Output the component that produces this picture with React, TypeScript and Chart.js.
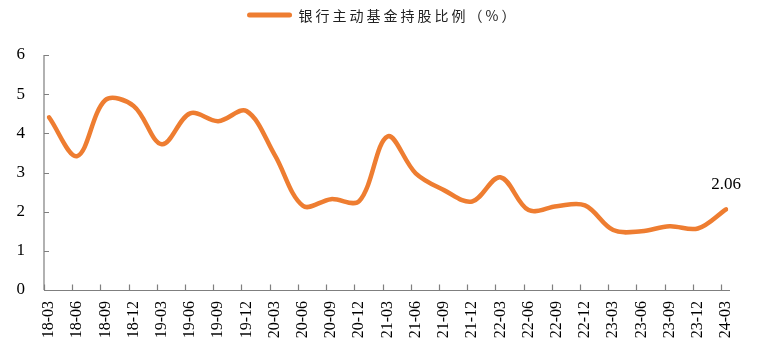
import React, { useEffect, useRef } from "react";
import { Chart, registerables } from "chart.js";

Chart.register(...registerables);

const categories = [
  "18-03", "18-06", "18-09", "18-12",
  "19-03", "19-06", "19-09", "19-12",
  "20-03", "20-06", "20-09", "20-12",
  "21-03", "21-06", "21-09", "21-12",
  "22-03", "22-06", "22-09", "22-12",
  "23-03", "23-06", "23-09", "23-12",
  "24-03",
];

const seriesName = "银行主动基金持股比例（%）";

const bankShare = [
  4.41, 3.42, 4.85, 4.70,
  3.72, 4.51, 4.31, 4.57,
  3.45, 2.15, 2.32, 2.27,
  3.92, 2.98, 2.55, 2.26,
  2.88, 2.04, 2.14, 2.16,
  1.53, 1.50, 1.63, 1.57,
  2.06,
];

const yTicks = [0, 1, 2, 3, 4, 5, 6];

const ORANGE = "#EE7D31";
const AXIS = "#7f7f7f";
const SERIF = "'Liberation Serif', 'Times New Roman', serif";

const axesPlugin = {
  id: "customAxes",
  beforeDatasetsDraw(chart: any) {
    const { ctx, chartArea, scales } = chart;
    const x = scales.x;
    const y = scales.y;
    const off = 5;
    const x0 = chartArea.left - off;
    const yTop = y.getPixelForValue(yTicks[yTicks.length - 1]);
    const yBot = y.getPixelForValue(yTicks[0]);
    ctx.save();
    ctx.strokeStyle = AXIS;
    ctx.lineWidth = 1.2;
    ctx.beginPath();
    ctx.moveTo(x0, yTop);
    ctx.lineTo(x0, yBot);
    yTicks.forEach((v) => {
      const py = Math.round(y.getPixelForValue(v)) + 0.5;
      ctx.moveTo(x0, py);
      ctx.lineTo(x0 + 5, py);
    });
    const by = Math.round(yBot) + 0.5;
    ctx.moveTo(x0, by);
    ctx.lineTo(chartArea.right + 4, by);
    categories.forEach((_, i) => {
      const px = Math.round(x.getPixelForTick(i) - off) + 0.5;
      ctx.moveTo(px, by);
      ctx.lineTo(px, by - 6);
    });
    ctx.stroke();
    ctx.restore();
  },
};

const legendPlugin = {
  id: "customLegend",
  afterDraw(chart: any) {
    const { ctx, width } = chart;
    const label = chart.data.datasets[0].label as string;
    ctx.save();
    ctx.font = "14px 'Noto Sans CJK SC', sans-serif";
    (ctx as any).letterSpacing = "3px";
    const tw = ctx.measureText(label).width;
    const lineW = 44;
    const gap = 7;
    const total = lineW + gap + tw;
    const startX = (width - total) / 2 + 2;
    const cy = 15;
    ctx.strokeStyle = ORANGE;
    ctx.lineWidth = 5;
    ctx.lineCap = "round";
    ctx.beginPath();
    ctx.moveTo(startX + 2, cy);
    ctx.lineTo(startX + lineW - 2, cy);
    ctx.stroke();
    ctx.fillStyle = "#222";
    ctx.textBaseline = "middle";
    ctx.textAlign = "left";
    ctx.fillText(label, startX + lineW + gap, cy + 1);
    ctx.restore();
  },
};

const lastLabelPlugin = {
  id: "lastLabel",
  afterDatasetsDraw(chart: any) {
    const { ctx } = chart;
    const meta = chart.getDatasetMeta(0);
    const n = meta.data.length - 1;
    const pt = meta.data[n];
    const v = chart.data.datasets[0].data[n] as number;
    ctx.save();
    ctx.font = `17px ${SERIF}`;
    ctx.fillStyle = "#000";
    ctx.textAlign = "center";
    ctx.textBaseline = "middle";
    ctx.fillText(v.toFixed(2), pt.x, pt.y - 25);
    ctx.restore();
  },
};

export default function App() {
  const ref = useRef<HTMLCanvasElement | null>(null);

  useEffect(() => {
    if (!ref.current) return;
    const chart = new Chart(ref.current, {
      type: "line",
      data: {
        labels: categories,
        datasets: [
          {
            label: seriesName,
            data: bankShare,
            borderColor: ORANGE,
            backgroundColor: ORANGE,
            borderWidth: 4.5,
            pointRadius: 0,
            tension: 0.35,
            borderCapStyle: "round",
            borderJoinStyle: "round",
          },
        ],
      },
      plugins: [axesPlugin, legendPlugin, lastLabelPlugin],
      options: {
        animation: false,
        responsive: false,
        devicePixelRatio: 1,
        layout: { padding: { top: 55, right: 36, left: 0, bottom: 0 } },
        plugins: {
          legend: { display: false },
          tooltip: { enabled: false },
        },
        scales: {
          x: {
            type: "category",
            offset: false,
            grid: { display: false, drawTicks: false },
            border: { display: false },
            ticks: {
              autoSkip: false,
              minRotation: 90,
              maxRotation: 90,
              padding: 11,
              color: "#000",
              font: { family: SERIF, size: 16 },
            },
            afterFit: (s: any) => {
              s.height = 62;
            },
          },
          y: {
            min: 0,
            max: 6,
            grid: { display: false, drawTicks: false },
            border: { display: false },
            ticks: {
              stepSize: 1,
              padding: 24,
              color: "#000",
              font: { family: SERIF, size: 17 },
            },
            afterFit: (s: any) => {
              s.width = 49;
            },
          },
        },
      },
    });
    return () => chart.destroy();
  }, []);

  return (
    <div style={{ position: "absolute", left: 0, top: 0, width: 762, height: 352, background: "#fff" }}>
      <canvas ref={ref} width={762} height={352} />
    </div>
  );
}
